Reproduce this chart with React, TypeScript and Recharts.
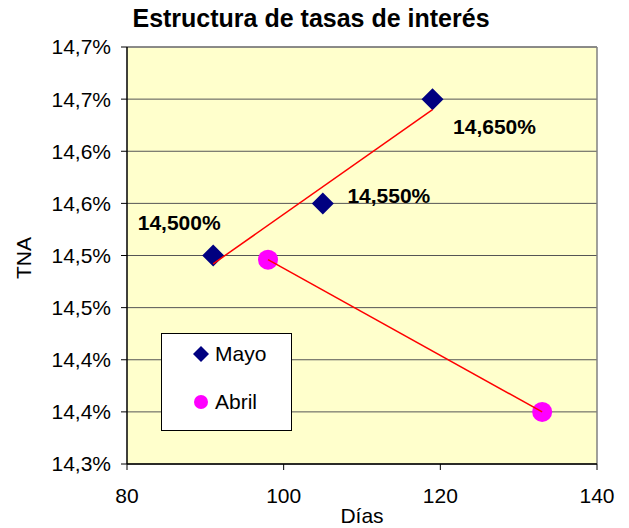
import React from "react";
import {
  ComposedChart,
  Scatter,
  XAxis,
  YAxis,
  CartesianGrid,
  ReferenceLine,
  LabelList,
  Legend,
} from "recharts";

// days to maturity / TNA (%)
const mayoDias = [91, 105, 119];
const mayoTna = [14.5, 14.55, 14.65];
const abrilDias = [98, 133];
const abrilTna = [14.496, 14.35];

// linear trend line ends
const mayoTrendDias = [91, 119];
const mayoTrendTna = [14.492, 14.64];
const abrilTrendDias = [98, 133];
const abrilTrendTna = [14.496, 14.35];

const yTicks = [14.3, 14.35, 14.4, 14.45, 14.5, 14.55, 14.6, 14.65, 14.7];
const yTickLabels = ["14,3%", "14,4%", "14,4%", "14,5%", "14,5%", "14,6%", "14,6%", "14,7%", "14,7%"];
const xTicks = [80, 100, 120, 140];

const toPoints = (xs: number[], ys: number[]) => xs.map((x, i) => ({ x, y: ys[i] }));

const mayo = toPoints(mayoDias, mayoTna);
const abril = toPoints(abrilDias, abrilTna);
const mayoTrend = toPoints(mayoTrendDias, mayoTrendTna);
const abrilTrend = toPoints(abrilTrendDias, abrilTrendTna);

const FONT = "'Liberation Sans', Arial, sans-serif";
const NAVY = "#000080";
const MAGENTA = "#FF00FF";

// where each Mayo label sits relative to its marker
const labelOffsets = [
  { dx: -34, dy: -33 },
  { dx: 66, dy: -8 },
  { dx: 62, dy: 27 },
];

const Diamond = (props: any) => {
  const { cx, cy } = props;
  if (cx == null || cy == null) return <g />;
  const r = 11;
  return (
    <path
      d={`M${cx},${cy - r} L${cx + r},${cy} L${cx},${cy + r} L${cx - r},${cy} Z`}
      fill={NAVY}
    />
  );
};

const Dot = (props: any) => {
  const { cx, cy } = props;
  if (cx == null || cy == null) return <g />;
  return <circle cx={cx} cy={cy} r={10} fill={MAGENTA} />;
};

const NoShape = () => <g />;

const MayoLabel = (props: any) => {
  const { x, y, width, height, index, value } = props;
  const off = labelOffsets[index] || { dx: 0, dy: 0 };
  const cx = x + (width || 0) / 2 + off.dx;
  const cy = y + (height || 0) / 2 + off.dy;
  const txt = Number(value).toFixed(3).replace(".", ",") + "%";
  return (
    <text
      x={cx}
      y={cy}
      textAnchor="middle"
      dominantBaseline="central"
      fontFamily={FONT}
      fontWeight="bold"
      fontSize={21}
      fill="#000"
    >
      {txt}
    </text>
  );
};

const LegendBox = () => (
  <div
    style={{
      width: 129,
      height: 96,
      border: "1px solid #000",
      background: "#fff",
      fontFamily: FONT,
      fontSize: 21,
      color: "#000",
      position: "relative",
    }}
  >
    <svg width={20} height={20} style={{ position: "absolute", left: 29, top: 10 }}>
      <path d="M10,2 L18,10 L10,18 L2,10 Z" fill={NAVY} />
    </svg>
    <div style={{ position: "absolute", left: 53, top: 8, lineHeight: "24px" }}>Mayo</div>
    <svg width={20} height={20} style={{ position: "absolute", left: 29, top: 58 }}>
      <circle cx={10} cy={10} r={7} fill={MAGENTA} />
    </svg>
    <div style={{ position: "absolute", left: 53, top: 56, lineHeight: "24px" }}>Abril</div>
  </div>
);

export default function App() {
  return (
    <div style={{ position: "absolute", left: 0, top: 0, width: 629, height: 528, background: "#fff" }}>
      <div
        style={{
          position: "absolute",
          left: 0,
          top: 6,
          width: 622,
          textAlign: "center",
          fontFamily: FONT,
          fontWeight: "bold",
          fontSize: 25,
          lineHeight: "25px",
        }}
      >
        Estructura de tasas de interés
      </div>
      <div
        style={{
          position: "absolute",
          left: 24,
          top: 258,
          transform: "translate(-50%, -50%) rotate(-90deg)",
          fontFamily: FONT,
          fontSize: 21,
          lineHeight: "24px",
          whiteSpace: "nowrap",
        }}
      >
        TNA
      </div>
      <ComposedChart
        width={629}
        height={528}
        margin={{ top: 47, right: 32, bottom: 0, left: 0 }}
      >
        <CartesianGrid
          horizontal
          vertical={false}
          fill="#FFFFCC"
          fillOpacity={1}
          stroke="#555"
          strokeWidth={1}
        />
        <XAxis
          type="number"
          dataKey="x"
          domain={[80, 140]}
          ticks={xTicks}
          allowDataOverflow
          height={64}
          tickSize={6}
          tickMargin={18}
          axisLine={{ stroke: "#000", strokeWidth: 1.5 }}
          tickLine={{ stroke: "#000" }}
          tick={{ fontSize: 21, fill: "#000", fontFamily: FONT }}
          label={{
            value: "Días",
            position: "insideBottom",
            offset: 5,
            style: { fontSize: 21, fill: "#000", fontFamily: FONT },
          }}
        />
        <YAxis
          type="number"
          dataKey="y"
          domain={[14.3, 14.7]}
          ticks={yTicks}
          allowDataOverflow
          width={127}
          tickSize={6}
          tickMargin={10}
          interval={0}
          axisLine={{ stroke: "#000", strokeWidth: 1.5 }}
          tickLine={{ stroke: "#000" }}
          tick={{ fontSize: 21, fill: "#000", fontFamily: FONT }}
          tickFormatter={(v: number) => {
            const i = yTicks.findIndex((t) => Math.abs(t - v) < 1e-6);
            return i >= 0 ? yTickLabels[i] : String(v);
          }}
        />
        <ReferenceLine y={14.7} stroke="#808080" strokeWidth={1.5} />
        <ReferenceLine x={140} stroke="#808080" strokeWidth={1.5} />
        <Legend
          layout="vertical"
          align="center"
          verticalAlign="middle"
          content={<LegendBox />}
          wrapperStyle={{ position: "absolute", left: 161, top: 333, width: 131, height: 98 }}
        />
        <Scatter
          name="Mayo"
          data={mayo}
          shape={<Diamond />}
          isAnimationActive={false}
        >
          <LabelList dataKey="y" content={<MayoLabel />} />
        </Scatter>
        <Scatter
          name="Abril"
          data={abril}
          shape={<Dot />}
          isAnimationActive={false}
        />
        <Scatter
          name="Mayo tendencia"
          data={mayoTrend}
          line={{ stroke: "#FF0000", strokeWidth: 1.5 }}
          shape={<NoShape />}
          legendType="none"
          isAnimationActive={false}
        />
        <Scatter
          name="Abril tendencia"
          data={abrilTrend}
          line={{ stroke: "#FF0000", strokeWidth: 1.5 }}
          shape={<NoShape />}
          legendType="none"
          isAnimationActive={false}
        />
      </ComposedChart>
    </div>
  );
}
